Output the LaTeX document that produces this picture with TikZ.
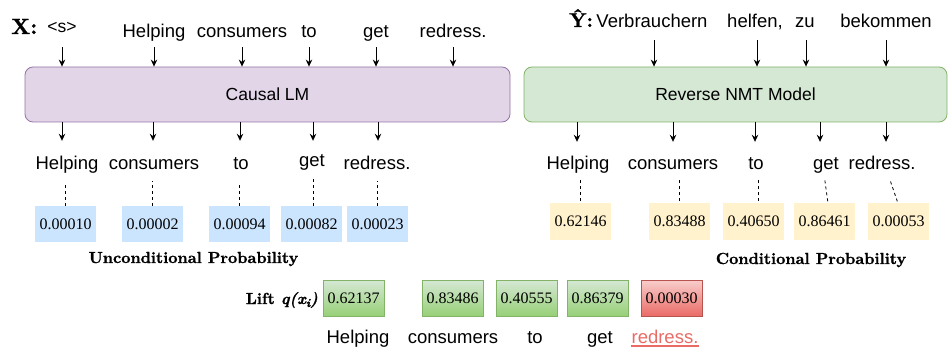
\documentclass[tikz,border=0pt]{standalone}
\usepackage{fontspec}
\newfontfamily\sansf{Liberation Sans}
\newfontfamily\numf{Liberation Serif}
\newfontfamily\lblf{lmroman10-bold.otf}[FakeBold=1.2]
\newfontfamily\lblfi{lmroman10-bolditalic.otf}[FakeBold=1.2]
\usetikzlibrary{arrows.meta}
\definecolor{purpfill}{HTML}{E1D5E7}
\definecolor{purpline}{HTML}{9673A6}
\definecolor{grnfill}{HTML}{D5E8D4}
\definecolor{grnline}{HTML}{82B366}
\definecolor{grnbot}{HTML}{97D077}
\definecolor{bluefill}{HTML}{CCE5FF}
\definecolor{yelfill}{HTML}{FFF2CC}
\definecolor{redtop}{HTML}{F8CECC}
\definecolor{redbot}{HTML}{EA6B66}
\definecolor{redline}{HTML}{B85450}
\definecolor{redtxt}{HTML}{EA6B66}
\tikzset{
  wd/.style={font=\sansf\fontsize{18.5}{21}\selectfont, inner sep=0pt, text height=13pt, text depth=4pt, anchor=base},
  num/.style={font=\numf\fontsize{16}{18}\selectfont, minimum width=61pt, minimum height=36pt, inner sep=0pt},
  bluebox/.style={num, fill=bluefill},
  yelbox/.style={num, fill=yelfill},
  liftbox/.style={num, draw=grnline, top color=grnfill, bottom color=grnbot, line width=0.8pt},
  redbox/.style={num, draw=redline, top color=redtop, bottom color=redbot, line width=0.8pt},
  arr/.style={-{Stealth[length=7pt,width=6.5pt]}, line width=1pt},
  dsh/.style={dash pattern=on 3pt off 3pt, line width=0.8pt},
  lbl/.style={font=\lblf\fontsize{16}{18}\selectfont, inner sep=0pt, anchor=base},
  model/.style={draw, rounded corners=8pt, line width=0.8pt, font=\sansf\fontsize{17.5}{20}\selectfont}
}
\begin{document}
\begin{tikzpicture}[x=1pt,y=-1pt]
\useasboundingbox (0,0) rectangle (949,347);
% models
\node[model, draw=purpline, fill=purpfill, minimum width=485pt, minimum height=55pt] (llm) at (267.5,94.5) {Causal LM};
\node[model, draw=grnline, fill=grnfill, minimum width=423pt, minimum height=55pt] (nmt) at (735.5,94.5) {Reverse NMT Model};
% top left
\node[font=\lblf\fontsize{22}{24}\selectfont, anchor=base west, inner sep=0pt] (xl) at (11,34) {X:};
\node[wd, font=\sansf\fontsize{17.5}{20}\selectfont] (tl0) at (62,33) {<s>};
\node[wd] (tl1) at (154,38) {Helping};
\node[wd] (tl2) at (242,38) {consumers};
\node[wd] (tl3) at (309,38) {to};
\node[wd] (tl4) at (376,38) {get};
\node[wd] (tl5) at (453,38) {redress.};
\draw[arr, shorten <=10pt] (tl0.south) -- (tl0.south |- llm.north);
\foreach \i in {1,...,5}{\draw[arr, shorten <=5pt] (tl\i.south) -- (tl\i.south |- llm.north);}
% top right
\node[font=\lblf\fontsize{20}{22}\selectfont, anchor=base west, inner sep=0pt] (yl) at (569,27) {Ŷ:};
\node[wd] (tr1) at (652,28) {Verbrauchern};
\node[wd] (tr2) at (755,28) {helfen,};
\node[wd] (tr3) at (805,28) {zu};
\node[wd] (tr4) at (886,28) {bekommen};
\draw[arr, line width=0.8pt, shorten <=8pt] ([xshift=2pt]tr1.south) -- ([xshift=2pt]tr1.south |- nmt.north);
\draw[arr, line width=0.8pt, shorten <=8pt] ([xshift=2pt]tr2.south) -- ([xshift=2pt]tr2.south |- nmt.north);
\draw[arr, shorten <=8pt] ([xshift=1pt]tr3.south) -- ([xshift=1pt]tr3.south |- nmt.north);
\draw[arr, line width=0.8pt, shorten <=8pt] (tr4.south) -- (tr4.south |- nmt.north);
% bottom left words
\node[wd] (bl1) at (67,170) {Helping};
\node[wd] (bl2) at (154,170) {consumers};
\node[wd] (bl3) at (241,170) {to};
\node[wd] (bl4) at (312,167) {get};
\node[wd] (bl5) at (377,170) {redress.};
\draw[arr, shorten >=16pt] ([xshift=-5pt]bl1.north |- llm.south) -- ([xshift=-5pt]bl1.north);
\draw[arr, shorten >=16pt] ([xshift=-1pt]bl2.north |- llm.south) -- ([xshift=-1pt]bl2.north);
\draw[arr, shorten >=16pt] ([xshift=-1pt]bl3.north |- llm.south) -- ([xshift=-1pt]bl3.north);
\draw[arr, shorten >=13pt] ([xshift=1pt]bl4.north |- llm.south) -- ([xshift=1pt]bl4.north);
\draw[arr, shorten >=16pt] ([xshift=1pt]bl5.north |- llm.south) -- ([xshift=1pt]bl5.north);
% bottom right words
\node[wd] (br1) at (578,170) {Helping};
\node[wd] (br2) at (673,170) {consumers};
\node[wd] (br3) at (756,170) {to};
\node[wd] (br4) at (826,170) {get};
\node[wd] (br5) at (882,170) {redress.};
\draw[arr, line width=0.8pt, shorten >=15pt] ([xshift=-1pt]br1.north |- nmt.south) -- ([xshift=-1pt]br1.north);
\draw[arr, line width=0.8pt, shorten >=15pt] (br2.north |- nmt.south) -- (br2.north);
\draw[arr, line width=0.8pt, shorten >=15pt] ([xshift=-1pt]br3.north |- nmt.south) -- ([xshift=-1pt]br3.north);
\draw[arr, line width=0.8pt, shorten >=15pt] ([xshift=-6pt]br4.north |- nmt.south) -- ([xshift=-6pt]br4.north);
\draw[arr, line width=0.8pt, shorten >=15pt] ([xshift=4pt]br5.north |- nmt.south) -- ([xshift=4pt]br5.north);
% unconditional probabilities
\node[bluebox] (b1) at (65.5,224) {0.00010};
\node[bluebox] (b2) at (152.5,224) {0.00002};
\node[bluebox] (b3) at (239.5,224) {0.00094};
\node[bluebox] (b4) at (311.5,224) {0.00082};
\node[bluebox] (b5) at (377.5,224) {0.00023};
\draw[dsh, shorten >=9pt] (b1.north) -- (b1.north |- bl1.south);
\draw[dsh, shorten >=7pt] (b2.north) -- (b2.north |- bl2.south);
\draw[dsh, shorten >=10pt] (b3.north) -- (b3.north |- bl3.south);
\draw[dsh, shorten >=7pt] ([xshift=2pt]b4.north) -- ([xshift=2pt]b4.north |- bl4.south);
\draw[dsh, shorten >=7pt] (b5.north) -- (b5.north |- bl5.south);
\node[lbl] (ul) at (193.5,263) {Unconditional Probability};
% conditional probabilities
\node[yelbox] (y1) at (580.5,221.5) {0.62146};
\node[yelbox] (y2) at (679.5,221.5) {0.83488};
\node[yelbox] (y3) at (753.5,221.5) {0.40650};
\node[yelbox] (y4) at (824.5,221.5) {0.86461};
\node[yelbox] (y5) at (898.5,221.5) {0.00053};
\draw[dsh, shorten <=2pt, shorten >=6pt] (y1.north) -- (y1.north |- br1.south);
\draw[dsh, shorten <=2pt, shorten >=6pt] (y2.north) -- (y2.north |- br2.south);
\draw[dsh, shorten <=2pt, shorten >=6pt] ([xshift=4.5pt]y3.north) -- ([xshift=4.5pt]y3.north |- br3.south);
\draw[dsh, shorten <=2pt, shorten >=6pt] ([xshift=3.5pt]y4.north) -- ([xshift=-2pt]br4.south);
\draw[dsh, shorten <=2pt, shorten >=6pt] ([xshift=-0.5pt]y5.north) -- ([xshift=6pt]br5.south);
\node[lbl] (cl) at (811,264) {Conditional Probability};
% lift
\node[lbl, anchor=base east] (liftlbl) at (318,304) {Lift {\lblfi q(x\raisebox{-3pt}{\fontsize{12}{13}\selectfont i})}};
\node[liftbox] (l1) at (353.5,298) {0.62137};
\node[liftbox] (l2) at (452.5,298) {0.83486};
\node[liftbox] (l3) at (526.5,298) {0.40555};
\node[liftbox] (l4) at (597.5,298) {0.86379};
\node[redbox] (l5) at (671.5,298) {0.00030};
\node[wd] (lw1) at (358,343) {Helping};
\node[wd] (lw2) at (453,343) {consumers};
\node[wd] (lw3) at (535,343) {to};
\node[wd] (lw4) at (600,343) {get};
\node[wd, text=redtxt] (lw5) at (665,343) {redress.};
\draw[redtxt, line width=1.3pt] ([yshift=-3pt]lw5.base west) -- ([yshift=-3pt]lw5.base east);
\end{tikzpicture}
\end{document}
